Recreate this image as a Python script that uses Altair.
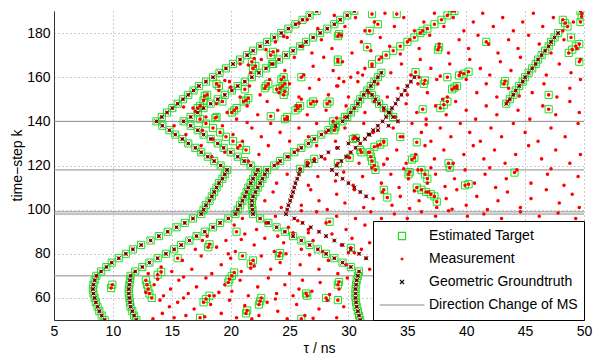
import altair as alt
import pandas as pd

# ---------------- axis ticks / labels ----------------
TAU_TICKS = [5, 10, 15, 20, 25, 30, 35, 40, 45, 50]
K_TICKS = [60, 80, 100, 120, 140, 160, 180]
DIRECTION_CHANGE_K = [70, 98, 99, 118, 140]
SERIES = ["Estimated Target", "Measurement", "Geometric Groundtruth", "Direction Change of MS"]

# ---------------- geometric groundtruth tracks (tau in ns, every 2nd time step) ----------------
G1_K = list(range(50, 191, 2))
G1_TAU = [9.3, 9.05, 8.85, 8.7, 8.55, 8.45, 8.35, 8.3, 8.35, 8.45, 8.6,
          9.0, 9.45, 9.9, 10.5, 11.1, 11.7, 12.4, 13.2, 13.9, 14.65, 15.4, 16.1, 16.8, 17.5,
          17.7, 17.9, 18.2, 18.4, 18.6, 18.8, 19.0, 19.3, 19.5, 19.7,
          19.15, 18.6, 18.05, 17.5, 17.0, 16.4, 15.9, 15.3, 14.8, 14.2, 13.7,
          14.15, 14.6, 15.05, 15.5, 15.95, 16.4, 16.85, 17.3, 17.9, 18.5, 19.05, 19.6, 20.2,
          20.8, 21.4, 21.9, 22.5, 23.1, 23.7, 24.3, 24.9, 25.5, 26.1, 26.7, 27.3]

G2_K = list(range(50, 191, 2))
G2_TAU = [12.0, 11.8, 11.65, 11.5, 11.45, 11.4, 11.35, 11.35, 11.4, 11.45, 11.5,
          11.9, 12.5, 13.1, 13.8, 14.5, 15.2, 15.8, 16.5, 17.1, 17.8, 18.5, 19.1, 19.8, 20.4,
          20.6, 20.8, 21.0, 21.2, 21.35, 21.5, 21.7, 21.9, 22.1, 22.3,
          21.7, 21.15, 20.6, 20.0, 19.4, 18.9, 18.3, 17.7, 17.2, 16.6, 16.0,
          16.6, 17.2, 17.7, 18.3, 18.9, 19.5, 20.1, 20.6, 21.2, 21.8, 22.4, 23.0, 23.5,
          24.1, 24.7, 25.3, 25.9, 26.4, 27.0, 27.6, 28.2, 28.8, 29.3, 29.9, 30.5]

G3_K = list(range(78, 153, 2))
G3_TAU = [31.5, 30.9, 30.2, 29.5, 28.8, 28.1, 27.5, 26.8, 26.1, 25.4, 24.7,
          24.8, 24.9, 25.05, 25.15, 25.3, 25.4, 25.5, 25.65, 25.8, 25.9,
          26.5, 27.1, 27.7, 28.3, 29.1, 30.0, 30.8, 31.7, 32.5, 33.4, 34.2,
          33.8, 33.4, 33.0, 32.6, 32.3, 32.0]

G4_K = list(range(106, 161, 2))
G4_TAU = [31.5, 31.0, 30.5, 30.0, 29.5, 29.0, 28.6,
          29.0, 29.4, 29.8, 30.2, 30.6, 31.0, 31.4, 31.8, 32.1, 32.5, 32.9,
          33.2, 33.5, 33.7, 34.0, 34.2, 34.5, 34.8, 35.0, 35.3, 35.6]

G5_K = list(range(50, 163, 2))
G5_TAU = [31.0, 30.9, 30.8, 30.7, 30.65, 30.6, 30.6, 30.6, 30.65, 30.7, 30.8, 30.9,
          30.2, 29.5, 28.8, 28.1, 27.4, 26.7, 26.0, 25.3, 24.6, 23.9, 23.2, 22.5, 21.9,
          21.85, 21.8, 21.8, 21.9, 22.1, 22.3, 22.5, 22.7, 22.9, 23.1,
          23.7, 24.2, 24.8, 25.4, 26.0, 26.6, 27.1, 27.7, 28.3, 28.9, 29.5,
          29.9, 30.2, 30.5, 30.8, 31.0, 31.3, 31.6, 31.9, 32.2, 32.5, 32.8]

G6_K = list(range(148, 181, 2))
G6_TAU = [43.4, 43.7, 44.0, 44.2, 44.5, 44.8, 45.0, 45.3, 45.6, 45.9, 46.1,
          46.4, 46.7, 47.0, 47.2, 47.5, 47.8]

# track seen only in measurements / estimates (no groundtruth)
G7_K = list(range(156, 191, 2))
G7_TAU = [29.0, 29.6, 30.2, 30.8, 31.4, 32.0, 32.6, 33.2, 33.8, 34.4, 35.0,
          35.6, 36.1, 36.7, 37.3, 37.9, 38.4, 39.0]

# ---------------- extra estimated targets (tau, k) ----------------
EST_EXTRA = [
    (9.85, 64.5), (9.95, 66.0), (12.8, 68), (12.9, 66), (13.0, 64), (13.1, 62), (13.3, 60),
    (13.8, 70.5), (14.1, 71.8), (17.4, 51), (17.7, 58), (17.9, 59.5), (18.2, 61),
    (18.1, 83), (18.2, 84.3), (15.5, 78), (19.8, 67), (19.9, 68.5), (20.1, 70), (20.3, 71.5),
    (21.0, 79), (21.7, 75.5), (21.9, 77), (22.4, 57), (22.5, 58.5), (22.6, 60),
    (21.3, 53), (21.4, 54.3), (24.1, 79), (24.2, 80.3), (20.5, 90),
    (26.4, 62), (26.5, 61), (28.1, 60), (29.1, 66), (29.2, 67.2), (29.1, 59), (26.0, 50.5),
    (28.4, 94.5), (30.2, 82.7), (39.6, 50.5),
    (28.8, 136), (28.9, 137.3), (30.4, 132), (30.6, 132.5), (31.0, 127),
    (31.8, 126), (31.9, 124), (32.0, 122), (32.2, 120), (32.3, 118),
    (32.7, 129.5), (34.4, 133), (35.8, 130.5), (35.4, 122.7), (35.6, 123.5), (35.1, 116), (35.2, 117),
    (36.2, 118), (36.5, 116), (36.7, 114),
    (35.8, 110), (36.2, 109), (36.6, 108), (37.0, 107), (37.3, 106),
    (37.5, 103.6), (38.6, 119), (38.5, 121), (39.9, 111), (40.2, 111.5), (44.1, 116.8),
    (33.0, 109), (33.3, 105.5),
    (38.8, 190), (41.7, 176), (37.7, 173.6), (37.6, 172.5),
    (39.4, 160.8), (39.8, 161.6), (40.2, 162.5), (38.8, 154.5), (39.0, 155.3), (39.2, 156), (38.4, 160),
    (37.8, 146), (38.1, 147.5), (38.4, 149), (36.3, 145.5),
    (43.2, 157), (43.3, 158.2), (47.0, 152), (47.0, 145.5),
    (48.9, 178), (48.7, 171), (49.0, 172.5), (49.3, 174), (49.6, 175), (49.6, 167),
    (48.2, 186), (48.4, 184.5), (48.6, 183), (49.7, 185), (49.8, 187.5), (49.7, 190), (36.3, 181),
    (36.4, 157), (36.5, 158.5), (35.7, 162.3), (32.0, 188.6), (34.1, 188.6), (32.5, 184),
    (31.8, 181), (31.6, 173.6), (26.0, 160),
    (23.4, 170), (23.6, 171.5), (21.9, 164), (22.1, 165),
    (23.2, 157), (23.0, 156), (22.9, 155), (23.9, 154.5), (24.6, 157), (24.4, 156), (24.2, 155),
    (25.7, 146), (25.9, 147), (25.5, 145), (26.8, 148), (27.0, 149), (28.2, 148), (28.4, 149),
    (29.1, 178.6), (29.2, 179.5), (29.1, 168), (29.1, 167),
    (19.0, 156), (18.0, 152), (17.8, 151.5),
    (20.5, 146), (20.3, 145), (20.1, 144), (21.5, 150.5), (21.3, 149.5), (21.1, 149),
    (24.6, 141), (28.7, 140), (29.7, 142),
    (23.6, 166), (21.8, 167), (21.2, 154.5), (19.3, 149), (18.7, 141.5), (18.8, 142),
    (17.2, 146), (17.4, 147), (24.3, 159), (24.5, 160), (24.5, 152), (24.6, 153.5),
    (24.8, 142), (23.4, 142.3), (18.8, 157), (17.7, 149.5),
    (21.3, 127), (20.8, 129), (20.2, 131), (19.6, 133), (19.1, 135), (18.5, 137), (17.9, 139), (17.4, 141),
    (25.9, 118.5), (26.6, 121), (27.1, 123), (29.1, 121), (30.1, 123.5), (31.1, 126), (32.2, 128.5), (33.0, 130.5),
]

# ---------------- clutter measurements (tau, k) ----------------
CLUTTER = [
    (13.4, 50.5), (14.2, 53), (14.8, 56), (15.5, 58), (16.2, 52), (16.9, 55), (17.8, 51.5), (18.3, 57),
    (19.2, 53), (19.9, 59), (20.5, 51), (21.2, 56.5), (22.4, 52), (23.1, 58), (24.0, 54), (24.8, 50.5),
    (25.6, 57), (26.3, 52), (27.5, 55), (28.2, 59), (29.0, 51), (29.6, 56), (14.0, 59), (16.0, 60),
    (21.8, 50.5), (23.8, 59.5), (27.0, 50.8), (15.2, 51),
    (12.8, 62.5), (13.5, 66), (14.3, 61), (14.9, 64), (15.6, 68), (16.4, 62), (17.1, 65), (17.9, 69),
    (18.6, 61), (19.5, 66), (20.1, 63), (20.8, 68), (21.5, 61), (22.3, 65), (23.2, 69), (23.9, 62),
    (24.6, 66), (25.3, 61), (26.1, 68), (26.9, 63), (27.6, 67), (28.4, 61.5), (29.2, 64), (29.9, 69),
    (16.0, 69.5), (19.0, 62.5), (25.8, 64), (13.8, 68.5),
    (13.0, 71), (14.1, 74), (15.0, 72), (15.9, 77), (16.7, 73), (17.5, 79), (18.4, 71), (19.2, 75),
    (20.0, 78), (20.9, 72), (21.7, 73.5), (22.6, 79), (23.4, 73), (24.2, 76), (25.0, 71), (25.9, 75),
    (26.7, 79.5), (27.5, 73), (28.3, 77), (29.1, 71), (29.8, 75), (31.5, 78), (31.8, 73), (19.8, 80),
    (22.0, 74.5), (24.7, 80), (30.5, 80.5),
    (17.6, 86), (17.0, 82), (18.0, 88), (18.8, 83), (19.6, 86), (20.4, 81), (21.2, 89), (22.0, 84),
    (22.9, 87), (23.7, 81), (24.5, 85), (25.3, 89.5), (26.0, 82), (27.0, 86), (27.8, 81), (28.6, 89),
    (29.4, 84), (30.3, 87), (31.1, 82), (31.8, 85), (20.9, 86.5), (24.0, 88), (26.6, 89.5), (30.0, 80.5),
    (20.3, 93), (21.0, 96), (22.2, 91), (23.0, 94), (23.8, 97), (24.9, 92), (25.7, 95), (26.6, 91),
    (27.3, 99), (28.1, 94), (29.0, 97), (29.8, 91), (30.6, 96), (31.4, 93), (32.8, 96), (33.9, 98),
    (35.0, 96), (36.2, 99), (37.4, 97), (38.5, 99.5), (40.1, 97), (41.5, 98), (43.0, 96), (44.6, 99),
    (46.2, 97), (47.8, 98.5), (49.3, 96), (31.9, 99), (26.0, 99.5),
    (22.9, 104), (23.6, 108), (24.3, 101), (25.2, 106), (26.0, 102), (26.8, 109), (27.5, 104), (28.2, 100),
    (29.0, 107), (29.7, 103), (30.5, 109), (31.3, 101), (32.1, 105), (32.9, 108), (33.7, 102), (34.4, 106),
    (35.2, 100.5), (36.0, 104), (36.8, 108), (37.5, 101), (38.3, 105), (39.2, 109), (40.0, 102), (40.9, 106),
    (41.8, 100), (42.7, 104), (43.5, 108), (44.6, 101), (45.5, 105), (46.8, 109), (47.9, 103), (49.0, 107),
    (49.6, 101), (38.8, 100.2), (35.6, 108.5),
    (23.9, 112), (24.8, 116), (26.6, 111), (27.4, 115), (28.9, 113), (29.6, 117), (30.4, 111), (31.2, 115),
    (32.0, 119), (32.8, 112), (33.6, 116), (34.3, 110), (35.1, 114), (35.9, 118), (36.7, 112), (37.4, 116),
    (38.2, 110.5), (39.0, 114), (39.9, 118), (40.7, 112), (41.6, 116), (42.5, 110), (43.4, 114), (44.3, 118),
    (45.5, 112), (46.9, 116), (48.3, 111), (49.5, 115), (37.0, 119), (42.0, 119), (47.2, 118.5), (34.7, 118.5),
    (19.5, 126), (20.6, 128), (21.5, 122), (22.4, 125), (23.2, 129), (24.0, 121), (24.9, 124), (25.7, 127),
    (26.5, 121.5), (27.3, 129), (28.0, 123), (29.0, 128), (30.0, 124), (30.9, 121), (31.7, 126), (32.5, 129),
    (33.3, 123), (34.1, 127), (34.9, 121), (35.7, 125), (36.5, 129), (37.3, 123), (38.1, 127), (38.9, 121),
    (39.8, 125), (40.6, 129), (41.5, 123), (42.4, 127), (43.3, 121), (44.2, 125), (45.3, 129), (46.4, 123),
    (47.6, 127), (48.8, 121), (49.7, 125), (33.0, 120.5), (17.5, 129), (16.2, 134), (18.4, 124), (15.2, 138),
    (17.6, 136), (18.5, 132), (19.3, 138), (20.2, 134), (21.0, 131), (21.8, 137), (22.6, 133), (23.4, 139),
    (24.2, 135), (25.0, 131), (25.8, 137), (26.6, 133), (27.3, 139), (28.1, 135), (28.9, 131), (29.7, 137),
    (30.5, 133), (31.3, 139), (32.1, 135), (33.0, 131), (33.8, 137), (34.6, 133), (35.4, 139), (36.2, 135),
    (37.0, 131), (37.8, 137), (38.7, 133), (39.5, 139), (40.3, 135), (41.2, 131), (42.1, 137), (43.0, 133),
    (44.0, 139), (45.0, 135), (46.1, 131), (47.2, 137), (48.4, 133), (49.5, 139), (21.4, 139.5), (36.6, 138.5),
    (16.8, 146), (17.9, 142), (18.8, 148), (19.7, 144), (20.5, 141), (21.4, 147), (22.3, 143), (23.1, 149),
    (24.0, 145), (24.8, 141), (25.6, 147), (26.5, 143), (27.3, 149), (28.1, 145), (29.0, 141.5), (29.8, 147),
    (31.4, 144), (32.2, 149), (33.0, 145), (34.0, 142), (34.9, 148), (35.8, 144), (36.6, 141), (37.4, 147),
    (38.3, 143), (39.1, 149), (40.0, 145), (40.8, 141), (41.7, 147), (42.6, 143), (43.5, 149), (44.4, 145),
    (45.4, 141), (46.5, 147), (47.6, 143), (48.8, 149), (49.6, 144), (38.0, 150), (26.0, 150),
    (19.0, 154), (19.9, 158), (20.8, 151), (21.6, 156), (22.5, 152), (23.3, 159), (24.1, 153), (25.0, 157),
    (25.8, 151), (26.7, 155), (27.5, 159), (28.3, 152), (29.1, 156), (30.0, 151), (30.8, 158), (31.7, 153),
    (32.5, 157), (33.3, 151), (34.2, 155), (35.0, 152), (35.9, 157), (36.7, 153), (37.5, 159), (38.4, 151),
    (39.2, 155), (40.0, 159), (40.9, 153), (41.7, 157), (42.6, 151), (43.6, 155), (44.5, 151.5), (45.6, 153),
    (46.6, 157), (47.7, 151), (48.8, 155), (49.7, 159), (36.0, 160), (29.2, 159.5),
    (20.8, 166), (21.7, 162), (22.6, 168), (24.6, 163), (25.4, 169), (26.2, 161), (27.0, 165), (27.9, 169),
    (28.7, 163), (29.5, 167), (31.2, 161), (32.0, 165), (32.8, 169), (33.6, 162), (34.5, 166), (35.3, 161),
    (36.1, 168), (37.0, 164), (37.8, 160.5), (38.6, 166), (39.5, 162), (40.3, 168), (41.2, 164), (42.0, 161),
    (42.9, 167), (43.8, 163), (44.6, 169), (46.8, 161), (47.9, 166), (48.9, 162), (49.7, 168),
    (23.8, 176), (24.0, 172), (24.8, 178), (26.1, 174), (26.9, 171), (27.7, 177), (28.6, 173), (29.4, 179),
    (30.3, 171), (31.1, 176), (31.9, 172), (32.7, 178), (33.5, 174), (34.4, 170.5), (35.2, 177), (36.0, 173),
    (36.9, 179), (37.7, 175), (38.5, 171), (39.4, 177), (40.2, 173), (41.0, 179), (41.9, 175), (42.7, 171),
    (43.6, 177), (44.4, 173), (45.3, 179), (46.2, 175), (47.2, 171), (48.3, 177), (49.4, 173),
    (26.5, 186), (27.4, 182), (28.8, 188), (29.7, 183), (30.6, 187), (31.4, 181), (32.2, 185), (33.1, 189),
    (33.9, 183), (34.7, 187), (35.6, 181), (36.4, 185), (37.3, 189), (38.1, 183), (38.9, 187), (39.8, 181),
    (40.6, 185), (41.4, 189), (42.3, 183), (43.1, 187), (44.0, 181), (44.8, 185), (45.7, 189), (46.5, 183),
    (47.4, 187), (48.2, 181), (49.1, 185), (49.8, 189),
    (16.0, 146.5), (19.5, 158.5), (21.5, 165.5), (23.0, 172.5), (24.5, 178.5), (25.8, 184.5), (17.0, 144.5),
    (20.0, 155.5), (22.0, 168.5),
]

# ---------------- build tables ----------------
def track(ks, taus, series, kmin=None):
    rows = [(t, k) for k, t in zip(ks, taus) if kmin is None or k >= kmin]
    return pd.DataFrame({"tau": [r[0] for r in rows], "k": [r[1] for r in rows], "series": series})

def pairs(lst, series):
    return pd.DataFrame({"tau": [p[0] for p in lst], "k": [p[1] for p in lst], "series": series})

GT = "Geometric Groundtruth"
EST = "Estimated Target"
MEAS = "Measurement"

gt_df = pd.concat([track(G1_K, G1_TAU, GT), track(G2_K, G2_TAU, GT), track(G3_K, G3_TAU, GT),
                   track(G4_K, G4_TAU, GT), track(G5_K, G5_TAU, GT), track(G6_K, G6_TAU, GT)])
est_df = pd.concat([track(G1_K, G1_TAU, EST), track(G2_K, G2_TAU, EST), track(G5_K, G5_TAU, EST),
                    track(G6_K, G6_TAU, EST), track(G3_K, G3_TAU, EST, kmin=142),
                    track(G7_K, G7_TAU, EST, kmin=166), pairs(EST_EXTRA, EST)])
meas_df = pd.concat([track(G1_K, G1_TAU, MEAS), track(G2_K, G2_TAU, MEAS), track(G3_K, G3_TAU, MEAS),
                     track(G4_K, G4_TAU, MEAS), track(G5_K, G5_TAU, MEAS), track(G6_K, G6_TAU, MEAS),
                     track(G7_K, G7_TAU, MEAS), pairs(EST_EXTRA, MEAS), pairs(CLUTTER, MEAS)])
rule_df = pd.DataFrame({"k": DIRECTION_CHANGE_K})

# ---------------- encodings ----------------
FONT = "Liberation Sans"
SQ = "M-0.16,-0.16H0.16V0.16H-0.16Z"
DOT = "M0.04,0A0.04,0.04,0,1,1,-0.04,0A0.04,0.04,0,1,1,0.04,0Z"
XS = "M-0.09,-0.09L0.09,0.09M-0.09,0.09L0.09,-0.09"
LN = "M-1,0H1"
COLORS = ["#22e022", "#ff0000", "#111111", "#8c8c8c"]

leg = alt.Legend(title=None, orient="bottom-right", offset=0, fillColor="white",
                 strokeColor="black", padding=6, labelFont=FONT, labelFontSize=14,
                 labelColor="black", symbolSize=2000, symbolStrokeWidth=1.2,
                 symbolFillColor="transparent",
                 clipHeight=18, rowPadding=5, labelOffset=4, cornerRadius=0)

color = alt.Color("series:N", scale=alt.Scale(domain=SERIES, range=COLORS), legend=leg)
shape = alt.Shape("series:N", scale=alt.Scale(domain=SERIES, range=[SQ, DOT, XS, LN]), legend=leg)

x = alt.X("tau:Q", scale=alt.Scale(domain=[5, 50], nice=False, zero=False),
          axis=alt.Axis(values=TAU_TICKS, title="τ / ns", grid=True, gridDash=[1, 3],
                        gridColor="#9a9a9a", ticks=False, labelPadding=4,
                        labelFont=FONT, labelFontSize=14, labelColor="black",
                        titleFont=FONT, titleFontSize=14, titleFontWeight="normal",
                        titleColor="black", domainColor="#333333", labelFlush=False,
                        titleY=32, titleBaseline="alphabetic"))
y = alt.Y("k:Q", scale=alt.Scale(domain=[50, 190], nice=False, zero=False),
          axis=alt.Axis(values=K_TICKS, title="time−step k", grid=True, gridDash=[1, 3],
                        gridColor="#9a9a9a", ticks=False, labelPadding=4,
                        labelFont=FONT, labelFontSize=14, labelColor="black",
                        titleFont=FONT, titleFontSize=14, titleFontWeight="normal",
                        titleColor="black", domainColor="#333333", labelFlush=False,
                        titleX=-30, titleY=154, titleAngle=270, titleAlign="center",
                        titleBaseline="bottom"))

rules = alt.Chart(rule_df).mark_rule(color="#8c8c8c", strokeWidth=1).encode(y=y)
squares = alt.Chart(est_df).mark_point(filled=False, size=2000, strokeWidth=1, opacity=1,
                                       clip=True).encode(x=x, y=y, color=color, shape=shape)
dots = alt.Chart(meas_df).mark_point(filled=False, size=2000, opacity=1, strokeWidth=1.8,
                                     clip=True).encode(x=x, y=y, color=color, shape=shape)
crosses = alt.Chart(gt_df).mark_point(filled=False, size=2000, strokeWidth=0.9, opacity=1,
                                      clip=True).encode(x=x, y=y, color=color, shape=shape)

chart = alt.layer(rules, squares, dots, crosses).properties(
    width=530, height=309, autosize="none",
    padding={"left": 46, "top": 3, "right": 11, "bottom": 35},
    background="white",
).configure_view(stroke=None)

chart.save("out.html", embed_options={"renderer": "svg", "actions": False})
